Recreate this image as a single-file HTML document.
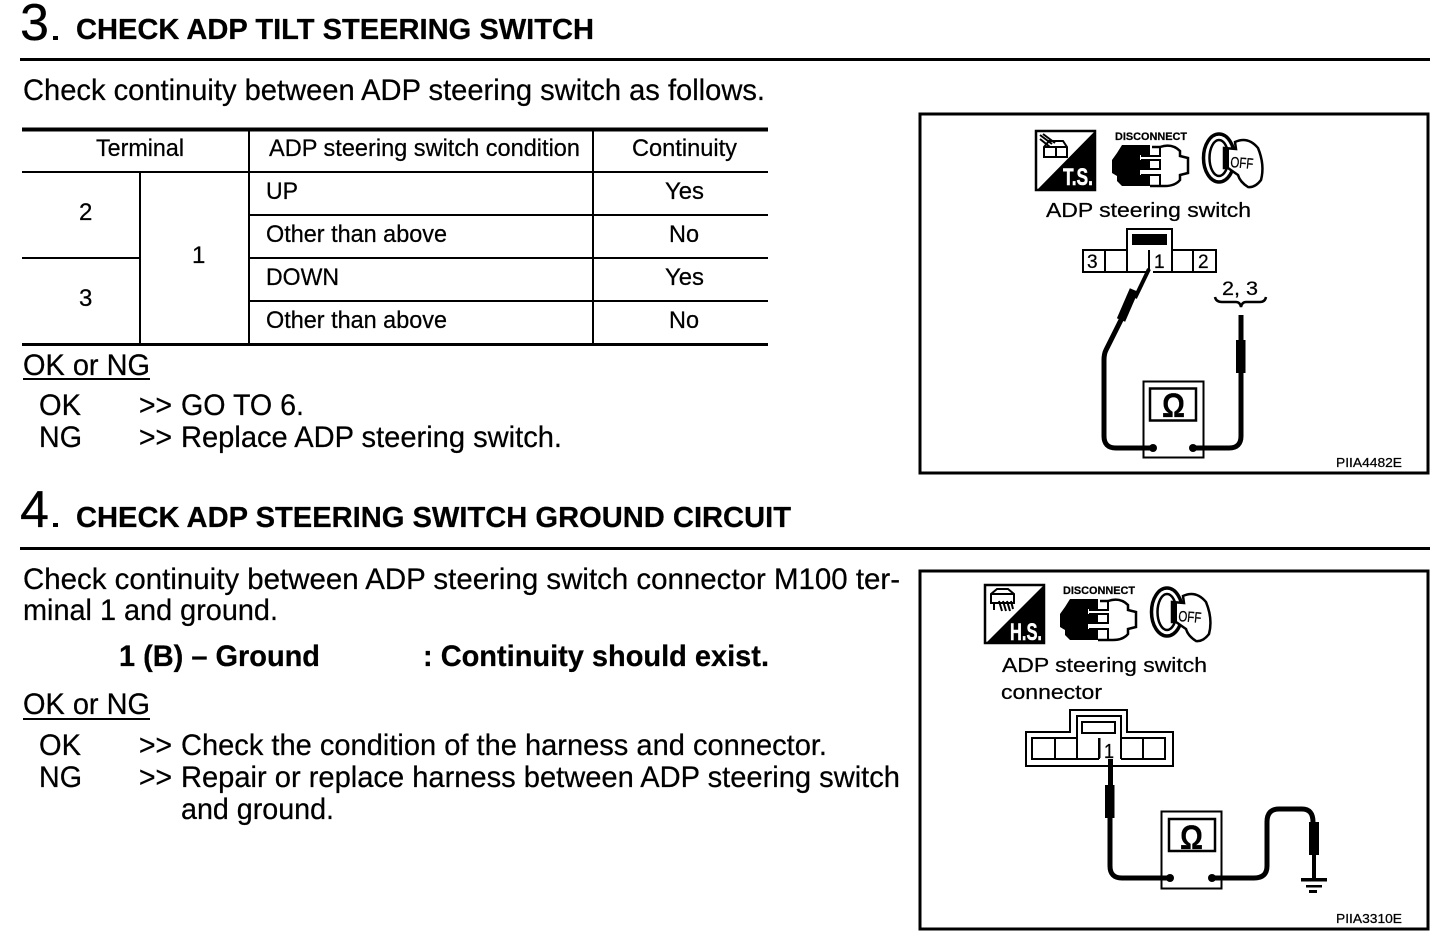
<!DOCTYPE html>
<html>
<head>
<meta charset="utf-8">
<style>
html,body{margin:0;padding:0;background:#fff;width:1456px;height:940px;overflow:hidden}
svg{display:block}
text{font-family:"Liberation Sans",sans-serif;fill:#000;stroke:#000;stroke-width:.25}
.b{font-weight:bold}
.t{font-size:24px}
.m{font-size:30px}
.h{font-size:29px;font-weight:bold}
.n{font-size:52px}
.c{font-size:20px}
.p{font-size:13px}
.w{fill:#fff;stroke:#fff;stroke-width:.5}
</style>
</head>
<body>
<svg width="1456" height="940" viewBox="0 0 1456 940" xmlns="http://www.w3.org/2000/svg">
<rect width="1456" height="940" fill="#fff"/>

<!-- Section 3 -->
<text class="n" x="20" y="40" textLength="29" lengthAdjust="spacingAndGlyphs">3</text>
<rect x="53" y="36" width="5" height="4"/>
<text class="h" x="76" y="39" textLength="518" lengthAdjust="spacingAndGlyphs">CHECK ADP TILT STEERING SWITCH</text>
<rect x="20" y="58" width="1410" height="3"/>
<text class="m" x="23" y="100" textLength="742" lengthAdjust="spacingAndGlyphs">Check continuity between ADP steering switch as follows.</text>

<!-- Table -->
<g fill="#000">
<rect x="22" y="127.500" width="746" height="4"/>
<rect x="22" y="171" width="746" height="2"/>
<rect x="249" y="214" width="519" height="2"/>
<rect x="22" y="257" width="118" height="2"/>
<rect x="249" y="257" width="519" height="2"/>
<rect x="249" y="300" width="519" height="2"/>
<rect x="22" y="343" width="746" height="3"/>
<rect x="248" y="130" width="2" height="214"/>
<rect x="592" y="130" width="2" height="214"/>
<rect x="139" y="172" width="2" height="172"/>
</g>
<text class="t" x="96" y="156" textLength="88" lengthAdjust="spacingAndGlyphs">Terminal</text>
<text class="t" x="269" y="156" textLength="311" lengthAdjust="spacingAndGlyphs">ADP steering switch condition</text>
<text class="t" x="632" y="156" textLength="105" lengthAdjust="spacingAndGlyphs">Continuity</text>
<text class="t" x="266" y="199" textLength="32" lengthAdjust="spacingAndGlyphs">UP</text>
<text class="t" x="665" y="199" textLength="39" lengthAdjust="spacingAndGlyphs">Yes</text>
<text class="t" x="266" y="242" textLength="181" lengthAdjust="spacingAndGlyphs">Other than above</text>
<text class="t" x="669" y="242" textLength="30" lengthAdjust="spacingAndGlyphs">No</text>
<text class="t" x="266" y="285" textLength="73" lengthAdjust="spacingAndGlyphs">DOWN</text>
<text class="t" x="665" y="285" textLength="39" lengthAdjust="spacingAndGlyphs">Yes</text>
<text class="t" x="266" y="328" textLength="181" lengthAdjust="spacingAndGlyphs">Other than above</text>
<text class="t" x="669" y="328" textLength="30" lengthAdjust="spacingAndGlyphs">No</text>
<text class="t" x="79" y="220">2</text>
<text class="t" x="79" y="306">3</text>
<text class="t" x="192" y="263">1</text>

<text class="m" x="23" y="375" textLength="127" lengthAdjust="spacingAndGlyphs">OK or NG</text>
<rect x="23" y="378" width="127" height="2"/>
<text class="m" x="39" y="415" textLength="42" lengthAdjust="spacingAndGlyphs">OK</text>
<text class="m" x="139" y="415" textLength="33" lengthAdjust="spacingAndGlyphs">&gt;&gt;</text>
<text class="m" x="181" y="415" textLength="123" lengthAdjust="spacingAndGlyphs">GO TO 6.</text>
<text class="m" x="39" y="447" textLength="43" lengthAdjust="spacingAndGlyphs">NG</text>
<text class="m" x="139" y="447" textLength="33" lengthAdjust="spacingAndGlyphs">&gt;&gt;</text>
<text class="m" x="181" y="447" textLength="381" lengthAdjust="spacingAndGlyphs">Replace ADP steering switch.</text>

<!-- Section 4 -->
<text class="n" x="20" y="527" textLength="29" lengthAdjust="spacingAndGlyphs">4</text>
<rect x="53" y="523" width="5" height="4"/>
<text class="h" x="76" y="527" textLength="715" lengthAdjust="spacingAndGlyphs">CHECK ADP STEERING SWITCH GROUND CIRCUIT</text>
<rect x="20" y="547" width="1410" height="3"/>
<text class="m" x="23" y="589" textLength="877" lengthAdjust="spacingAndGlyphs">Check continuity between ADP steering switch connector M100 ter-</text>
<text class="m" x="23" y="620" textLength="255" lengthAdjust="spacingAndGlyphs">minal 1 and ground.</text>
<text class="m b" x="119" y="666" textLength="201" lengthAdjust="spacingAndGlyphs">1 (B) – Ground</text>
<text class="m b" x="423" y="666" textLength="346" lengthAdjust="spacingAndGlyphs">: Continuity should exist.</text>
<text class="m" x="23" y="714" textLength="127" lengthAdjust="spacingAndGlyphs">OK or NG</text>
<rect x="23" y="718" width="127" height="2"/>
<text class="m" x="39" y="755" textLength="42" lengthAdjust="spacingAndGlyphs">OK</text>
<text class="m" x="139" y="755" textLength="33" lengthAdjust="spacingAndGlyphs">&gt;&gt;</text>
<text class="m" x="181" y="755" textLength="646" lengthAdjust="spacingAndGlyphs">Check the condition of the harness and connector.</text>
<text class="m" x="39" y="787" textLength="43" lengthAdjust="spacingAndGlyphs">NG</text>
<text class="m" x="139" y="787" textLength="33" lengthAdjust="spacingAndGlyphs">&gt;&gt;</text>
<text class="m" x="181" y="787" textLength="719" lengthAdjust="spacingAndGlyphs">Repair or replace harness between ADP steering switch</text>
<text class="m" x="181" y="819" textLength="153" lengthAdjust="spacingAndGlyphs">and ground.</text>

<!-- Box 1 -->
<rect x="920" y="114" width="508" height="359" fill="none" stroke="#000" stroke-width="3"/>
<!-- T.S. icon -->
<rect x="1036" y="131" width="59" height="59" fill="#fff" stroke="#000" stroke-width="2.500"/>
<polygon points="1036,191 1096,130 1096,191"/>
<text class="b w" x="1063" y="185" font-size="24" textLength="30" lengthAdjust="spacingAndGlyphs">T.S.</text>
<g fill="none" stroke="#000" stroke-width="2">
<path d="M1044,147 L1049,141 H1063 L1067,147 V157 H1044 Z M1044,147 H1067 M1056,147 V157"/>
<path d="M1040,135 L1052,144 M1043,134 L1055,143 M1040,139 L1050,147"/>
</g>
<!-- disconnect 1 -->
<text class="b" x="1115" y="140" font-size="11" textLength="72" lengthAdjust="spacingAndGlyphs">DISCONNECT</text>
<path d="M1122,145 H1150 V155 H1140 V160 H1150 V170 H1140 V175 H1150 V186 H1122 L1117,181 V176 L1112,173 V160 L1117,153 Z" fill="#000"/>
<path d="M1150,186 H1165 Q1175,186 1180,180 V175 L1188,173 V158 L1180,156 V151 Q1172,143 1160,147 H1152" fill="none" stroke="#000" stroke-width="2.500"/>
<path d="M1160,147 V156 H1141 M1141,160 H1160 V169 H1141 M1141,175 H1160 V185" fill="none" stroke="#000" stroke-width="2"/>
<!-- key 1 -->
<ellipse cx="1219" cy="158" rx="15.500" ry="24" fill="#fff" stroke="#000" stroke-width="3.500"/>
<ellipse cx="1219" cy="158" rx="9.500" ry="18" fill="none" stroke="#000" stroke-width="2.500"/>
<path d="M1224,148 L1236,149 L1235,142 Q1248,136 1258,148 Q1265,165 1261,180 Q1255,188 1248,187 Q1240,182 1238,175 L1228,168 H1224 Z" fill="#fff" stroke="#000" stroke-width="2.500"/>
<rect x="1224" y="149" width="5" height="19"/>
<text x="1230" y="167" font-size="15" transform="rotate(5 1230 167)" textLength="23" lengthAdjust="spacingAndGlyphs">OFF</text>

<text class="c" x="1046" y="217" textLength="205" lengthAdjust="spacingAndGlyphs">ADP steering switch</text>

<!-- Connector 1 -->
<g fill="none" stroke="#000" stroke-width="2">
<path d="M1127,272 V229 H1172 V250"/>
<path d="M1127,250 H1083 V272 H1147 M1153,272 H1216 V250 H1172 V272"/>
<path d="M1105,250 V272 M1193,250 V272"/>
</g>
<rect x="1148" y="250" width="2" height="20"/>
<rect x="1132" y="234" width="35" height="11"/>
<text x="1087" y="268" font-size="19">3</text>
<text x="1154" y="268" font-size="19">1</text>
<text x="1198" y="268" font-size="19">2</text>

<!-- Probe left -->
<path d="M1149,269 L1135,298" stroke="#000" stroke-width="4" fill="none"/>
<path d="M1134,290 L1121,320" stroke="#000" stroke-width="9" fill="none"/>
<path d="M1122,318 L1106,350 Q1104,354 1104,360 V436 Q1104,448 1116,448 H1153" stroke="#000" stroke-width="5" fill="none"/>
<circle cx="1153" cy="448" r="4"/>
<text x="1222" y="295" font-size="19" textLength="36" lengthAdjust="spacingAndGlyphs">2, 3</text>
<path d="M1215,297 Q1216,302 1222,302 H1236 Q1240,302 1241,307 Q1242,302 1246,302 H1260 Q1265,302 1266,297" fill="none" stroke="#000" stroke-width="2.500"/>
<rect x="1238.500" y="315" width="5" height="26"/>
<rect x="1236" y="340" width="9.500" height="33"/>
<path d="M1241,372 V436 Q1241,448 1229,448 H1193" stroke="#000" stroke-width="5" fill="none"/>
<circle cx="1193" cy="448" r="4"/>
<!-- Meter 1 -->
<rect x="1143.500" y="381.500" width="60" height="76" fill="none" stroke="#000" stroke-width="2"/>
<rect x="1150" y="388.500" width="46" height="32" fill="none" stroke="#000" stroke-width="2.500"/>
<text class="b" x="1162" y="417" font-size="34" textLength="23" lengthAdjust="spacingAndGlyphs">Ω</text>
<text class="p" x="1336" y="467" textLength="66" lengthAdjust="spacingAndGlyphs">PIIA4482E</text>

<!-- Box 2 -->
<rect x="920" y="571" width="508" height="358" fill="none" stroke="#000" stroke-width="3"/>
<!-- H.S. icon -->
<rect x="985" y="585" width="59" height="58" fill="#fff" stroke="#000" stroke-width="2.500"/>
<polygon points="985,644 1045,584 1045,644"/>
<text class="b w" x="1010" y="640" font-size="24" textLength="32" lengthAdjust="spacingAndGlyphs">H.S.</text>
<g fill="none" stroke="#000" stroke-width="2">
<path d="M991,594 L997,589 H1008 L1014,594 V603 H991 Z M991,594 H1014"/>
<path d="M994,603 V610 M999,601 L1002,611 M1003,601 L1006,611 M1007,601 L1010,611 M1011,601 L1013,609"/>
</g>
<!-- disconnect 2 -->
<text class="b" x="1063" y="594" font-size="11" textLength="72" lengthAdjust="spacingAndGlyphs">DISCONNECT</text>
<g transform="translate(-52,454)">
<path d="M1122,145 H1150 V155 H1140 V160 H1150 V170 H1140 V175 H1150 V186 H1122 L1117,181 V176 L1112,173 V160 L1117,153 Z" fill="#000"/>
<path d="M1150,186 H1165 Q1175,186 1180,180 V175 L1188,173 V158 L1180,156 V151 Q1172,143 1160,147 H1152" fill="none" stroke="#000" stroke-width="2.500"/>
<path d="M1160,147 V156 H1141 M1141,160 H1160 V169 H1141 M1141,175 H1160 V185" fill="none" stroke="#000" stroke-width="2"/>
<ellipse cx="1219" cy="158" rx="15.500" ry="24" fill="#fff" stroke="#000" stroke-width="3.500"/>
<ellipse cx="1219" cy="158" rx="9.500" ry="18" fill="none" stroke="#000" stroke-width="2.500"/>
<path d="M1224,148 L1236,149 L1235,142 Q1248,136 1258,148 Q1265,165 1261,180 Q1255,188 1248,187 Q1240,182 1238,175 L1228,168 H1224 Z" fill="#fff" stroke="#000" stroke-width="2.500"/>
<rect x="1224" y="149" width="5" height="19"/>
<text x="1230" y="167" font-size="15" transform="rotate(5 1230 167)" textLength="23" lengthAdjust="spacingAndGlyphs">OFF</text>
</g>

<text class="c" x="1002" y="672" textLength="205" lengthAdjust="spacingAndGlyphs">ADP steering switch</text>
<text class="c" x="1001" y="699" textLength="101" lengthAdjust="spacingAndGlyphs">connector</text>

<!-- Connector 2 -->
<g fill="none" stroke="#000" stroke-width="2">
<path d="M1026,732 H1070 V710 H1127 V732 H1173 V766 H1026 Z"/>
<path d="M1077,738 H1032 V759 H1099 M1121,759 H1165 V738 H1121 V716 H1077 V738"/>
<rect x="1082" y="722" width="33" height="11"/>
<path d="M1055,738 V759 M1077,738 V759 M1143,738 V759 M1121,738 V759"/>
</g>
<rect x="1098" y="738" width="2.500" height="21"/>
<rect x="1100" y="758" width="20" height="4" fill="#fff"/>
<text x="1104" y="758" font-size="20" textLength="10" lengthAdjust="spacingAndGlyphs">1</text>
<rect x="1108" y="759" width="5" height="27"/>
<rect x="1105" y="785" width="9.500" height="33"/>
<path d="M1110,817 V866 Q1110,878 1122,878 H1170" stroke="#000" stroke-width="5" fill="none"/>
<circle cx="1170" cy="878" r="4"/>
<!-- Meter 2 -->
<rect x="1161.500" y="811.500" width="60" height="77" fill="none" stroke="#000" stroke-width="2"/>
<rect x="1169" y="819" width="46" height="32" fill="none" stroke="#000" stroke-width="2.500"/>
<text class="b" x="1180" y="849" font-size="34" textLength="23" lengthAdjust="spacingAndGlyphs">Ω</text>
<circle cx="1212" cy="878" r="4"/>
<path d="M1212,878 H1254 Q1267,878 1267,866 V822 Q1267,809 1279,809 H1302 Q1313,809 1313,822" stroke="#000" stroke-width="5" fill="none"/>
<rect x="1309" y="822" width="10" height="33"/>
<rect x="1312" y="855" width="4" height="24"/>
<rect x="1301" y="878" width="26" height="3.500"/>
<rect x="1306" y="885" width="16" height="2.500"/>
<rect x="1309" y="890" width="8" height="3"/>
<text class="p" x="1336" y="923" textLength="66" lengthAdjust="spacingAndGlyphs">PIIA3310E</text>
</svg>
</body>
</html>
